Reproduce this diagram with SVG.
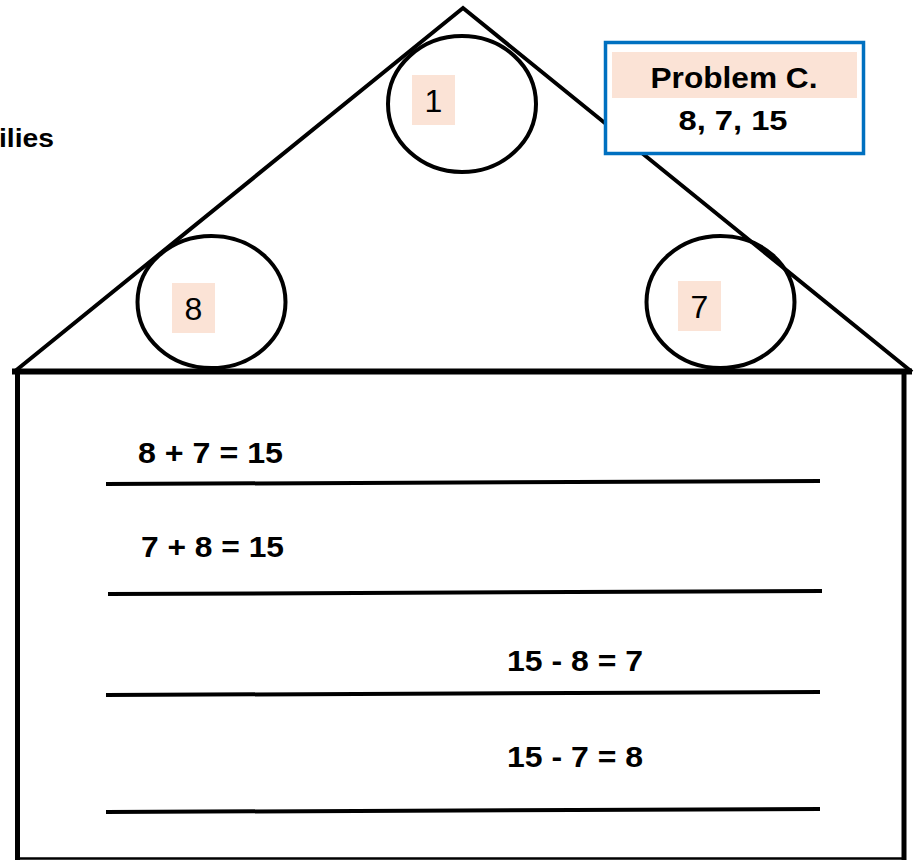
<svg xmlns="http://www.w3.org/2000/svg" width="923" height="860" viewBox="0 0 923 860">
<style>
.ln{stroke:#000;fill:none;stroke-linecap:butt}
.circ{fill:none;stroke:#000;stroke-width:4}
.hl{fill:#fbe3d6}
.num{font-family:"Liberation Sans",Arial,sans-serif;font-size:32px;fill:#000}
.eq{font-family:"Liberation Sans",Arial,sans-serif;font-weight:bold;font-size:29px;fill:#000}
.ttl{font-family:"Liberation Sans",Arial,sans-serif;font-weight:bold;fill:#000}
</style>
<rect width="923" height="860" fill="#fff"/>
<g id="house">
<polyline class="ln" points="14,372 463,8 912,372" stroke-width="4" stroke-linejoin="miter"/>
<line class="ln" x1="12" y1="371.5" x2="912" y2="371.5" stroke-width="6"/>
<line class="ln" x1="17.5" y1="369" x2="17.5" y2="860" stroke-width="5"/>
<line class="ln" x1="904" y1="369" x2="904" y2="860" stroke-width="5"/>
<line class="ln" x1="17" y1="858.5" x2="904" y2="858.5" stroke-width="2.5"/>
</g>
<g id="title-cut">
<text class="ttl" x="-1" y="147" font-size="25" textLength="55" lengthAdjust="spacingAndGlyphs">ilies</text>
</g>
<g id="node-top">
<ellipse class="circ" cx="462" cy="104" rx="74" ry="68"/>
<rect class="hl" x="412" y="75" width="43" height="50"/>
<text class="num" x="433.5" y="112" text-anchor="middle">1</text>
</g>
<g id="node-left">
<ellipse class="circ" cx="211.5" cy="302" rx="74" ry="66"/>
<rect class="hl" x="172" y="283" width="43" height="50"/>
<text class="num" x="193.5" y="320" text-anchor="middle">8</text>
</g>
<g id="node-right">
<ellipse class="circ" cx="720.5" cy="302" rx="74" ry="66"/>
<rect class="hl" x="678" y="281" width="43" height="50"/>
<text class="num" x="699.5" y="318" text-anchor="middle">7</text>
</g>
<g id="problem">
<rect x="605.5" y="42.5" width="258" height="111" fill="#fff" stroke="#0070c0" stroke-width="3.5"/>
<rect class="hl" x="612" y="52" width="245" height="46"/>
<text class="ttl" x="734" y="88" font-size="29" text-anchor="middle" textLength="167" lengthAdjust="spacingAndGlyphs">Problem C.</text>
<text class="ttl" x="733" y="130" font-size="28" text-anchor="middle" textLength="109" lengthAdjust="spacingAndGlyphs">8, 7, 15</text>
</g>
<g id="connectors">
<line class="ln" x1="106" y1="484" x2="820" y2="481" stroke-width="4"/>
<line class="ln" x1="108" y1="594" x2="822" y2="591" stroke-width="4"/>
<line class="ln" x1="106" y1="695" x2="820" y2="692" stroke-width="4"/>
<line class="ln" x1="106" y1="812" x2="820" y2="809" stroke-width="4"/>
</g>
<g id="equations">
<text class="eq" x="138" y="463" textLength="145" lengthAdjust="spacingAndGlyphs">8 + 7 = 15</text>
<text class="eq" x="141" y="557" textLength="143" lengthAdjust="spacingAndGlyphs">7 + 8 = 15</text>
<text class="eq" x="507" y="671" textLength="136" lengthAdjust="spacingAndGlyphs">15 - 8 = 7</text>
<text class="eq" x="507" y="767" textLength="136" lengthAdjust="spacingAndGlyphs">15 - 7 = 8</text>
</g>
</svg>
